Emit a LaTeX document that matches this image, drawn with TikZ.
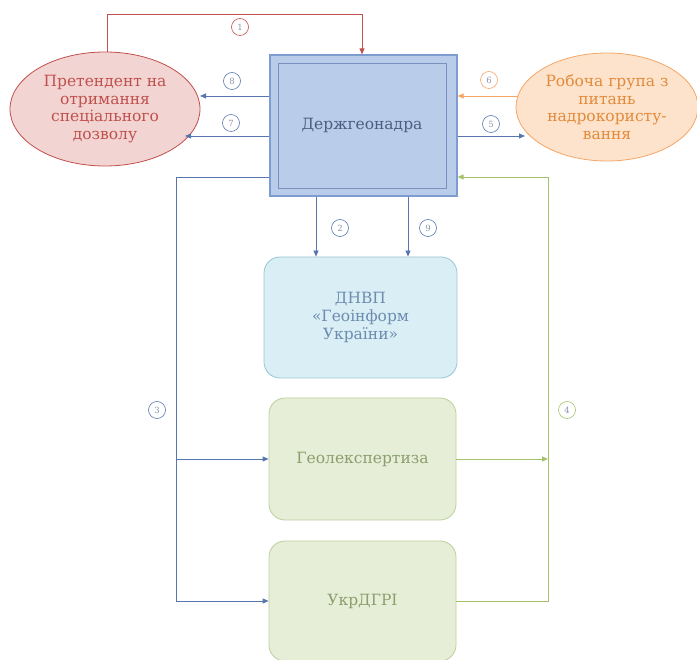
\documentclass[tikz,border=0pt]{standalone}
\usepackage{fontspec}
\setmainfont{DejaVu Serif}
\usetikzlibrary{arrows.meta,shapes.geometric,calc}
\definecolor{redl}{HTML}{C0504D}
\definecolor{redf}{HTML}{F2D5D2}
\definecolor{orl}{HTML}{F5A566}
\definecolor{orf}{HTML}{FDE3CC}
\definecolor{ort}{HTML}{E38A3A}
\definecolor{bluel}{HTML}{5876AE}
\definecolor{bluef}{HTML}{B9CDEB}
\definecolor{blueb}{HTML}{7C9CD2}
\definecolor{bluet}{HTML}{4A5F80}
\definecolor{cyanf}{HTML}{DAEEF5}
\definecolor{cyanb}{HTML}{96C6D6}
\definecolor{cyant}{HTML}{6C8CB0}
\definecolor{greenl}{HTML}{A4C26A}
\definecolor{greenf}{HTML}{E6EED8}
\definecolor{greenb}{HTML}{BCD09C}
\definecolor{greent}{HTML}{8C9E6C}
\definecolor{numc}{HTML}{8A93A8}
\tikzset{
  x=1pt,y=-1pt,
  arr/.style={-{Triangle[length=6pt,width=5pt]}, line width=0.8pt},
  num/.style={circle, draw=#1, line width=0.6pt, minimum size=17pt, inner sep=0pt, font=\fontsize{8.5}{8.5}\selectfont, text=numc},
  rbox/.style={rounded corners=16pt, line width=0.8pt, minimum width=190pt, align=center, font=\fontsize{15.5}{18}\selectfont},
  ell/.style={ellipse, line width=0.8pt, align=center, inner sep=0pt, font=\fontsize{15.5}{17.5}\selectfont}
}
\begin{document}
\begin{tikzpicture}
\useasboundingbox (0,0) rectangle (697,660);
% main box
\node[draw=blueb, fill=bluef, line width=1.2pt, minimum width=187pt, minimum height=141pt] (main) at (363.5,125.5) {};
\node[draw=bluel!80, line width=0.8pt, minimum width=168pt, minimum height=125pt, text=bluet, font=\fontsize{15.5}{18}\selectfont] (inner) at (362,125.5) {Держгеонадра};
% ellipses
\node[ell, draw=redl, fill=redf, text=redl, minimum width=190pt, minimum height=114pt] (pret) at (105,109) {Претендент на\\отримання\\спеціального\\дозволу};
\node[ell, draw=orl, fill=orf, text=ort, minimum width=182pt, minimum height=108pt] (rob) at (607,107) {Робоча група з\\питань\\надрокористу-\\вання};
% rounded boxes
\node[rbox, draw=cyanb, fill=cyanf, text=cyant, minimum width=193pt, minimum height=121pt] (dnvp) at (360.5,317.5) {ДНВП\\«Геоінформ\\України»};
\node[rbox, draw=greenb, fill=greenf, text=greent, minimum width=187pt, minimum height=122pt] (geol) at (362.5,459) {Геолекспертиза};
\node[rbox, draw=greenb, fill=greenf, text=greent, minimum width=187pt, minimum height=120pt] (ukr) at (362.5,601) {УкрДГРІ};
% coordinates
\coordinate (rt) at (107,14);
\coordinate (lx) at (176,177);
\coordinate (gx) at (548,177);
% arrow 1
\draw[arr, redl] (pret.north -| rt) -- (rt) -- (rt -| 362,0) -- (main.north -| 362,0);
\node[num=redl] (n1) at (240,27) {1};
% arrows 8, 7
\draw[arr, bluel] (main.west |- 0,96) -- (200,96) coordinate (e8);
\node[num=bluel] (n8) at (232,81) {8};
\draw[arr, bluel] (main.west |- 0,136) -- (185,136) coordinate (e7);
\node[num=bluel] (n7) at (231,123) {7};
% arrows 6, 5
\draw[arr, orl] (518,96) coordinate (s6) -- (main.east |- 0,96);
\node[num=orl] (n6) at (489,80) {6};
\draw[arr, bluel] (main.east |- 0,136) -- (525,136) coordinate (e5);
\node[num=bluel] (n5) at (491,124) {5};
% arrows 2, 9
\draw[arr, bluel] (main.south -| 316,0) -- (dnvp.north -| 316,0);
\node[num=bluel] (n2) at (340,228) {2};
\draw[arr, bluel] (main.south -| 408,0) -- (dnvp.north -| 408,0);
\node[num=bluel] (n9) at (428,228) {9};
% arrow 3
\draw[bluel, line width=0.8pt] (main.west |- lx) -- (lx) -- (lx |- ukr.west);
\draw[arr, bluel] (lx |- geol.west) -- (geol.west);
\draw[arr, bluel] (lx |- ukr.west) -- (ukr.west);
\node[num=bluel] (n3) at (157,410) {3};
% arrow 4
\draw[arr, greenl] (geol.east) -- (gx |- geol.east);
\draw[arr, greenl] (ukr.east) -- (gx |- ukr.east) -- (gx) -- (main.east |- gx);
\node[num=greenl] (n4) at (567,410) {4};
\end{tikzpicture}
\end{document}
